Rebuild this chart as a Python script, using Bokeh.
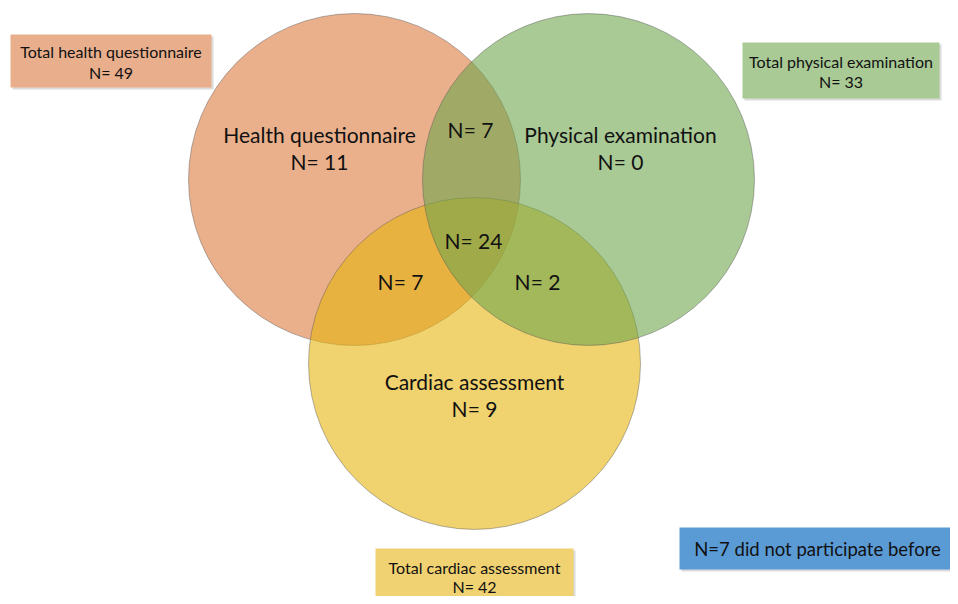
from bokeh.plotting import figure
from bokeh.models import Range1d
from bokeh.core.properties import value
from bokeh.embed import file_html
from bokeh.resources import INLINE

# ---- data ----
set_names = ["Health questionnaire", "Physical examination", "Cardiac assessment"]
only_counts = [11, 0, 9]
pair_names = ["Health & Physical", "Health & Cardiac", "Physical & Cardiac"]
pair_counts = [7, 7, 2]
all_three_count = 24
total_names = ["Total health questionnaire", "Total physical examination", "Total cardiac assessment"]
total_counts = [49, 33, 42]
not_participated = 7

# ---- layout (screenshot pixel coordinates) ----
FONT = "Lato"
circ_x = [354, 588, 474]
circ_y = [179, 179, 363]
circ_r = 166
pure_cols = ["#DC7B3F", "#70A54E", "#E6B40D"]
draw_order = [0, 2, 1]

p = figure(width=950, height=596, output_backend="svg", toolbar_location=None,
           x_range=Range1d(0, 950), y_range=Range1d(596, 0),
           min_border=0, outline_line_color=None, background_fill_color="white")
p.axis.visible = False
p.grid.visible = False

for i in draw_order:
    p.circle(x=[circ_x[i]], y=[circ_y[i]], radius=circ_r, fill_color=pure_cols[i],
             fill_alpha=0.6, line_color="#555555", line_alpha=0.55, line_width=0.8)

def txt(x, y, s, size):
    p.text(x=[x], y=[y], text=[s], text_font=value(FONT), text_font_size=f"{size}px",
           text_align="center", text_baseline="middle", text_color="#111111")

# single-set labels
lab_pos = [(319, 134, 161), (620, 134, 161), (474, 381, 408)]
for i, (lx, ly1, ly2) in enumerate(lab_pos):
    txt(lx, ly1, set_names[i], 21)
    txt(lx, ly2, f"N= {only_counts[i]}", 21)

pair_pos = [(470, 129), (400, 281), (537, 281)]
for (px, py), n in zip(pair_pos, pair_counts):
    txt(px, py, f"N= {n}", 21)
txt(473, 240, f"N= {all_three_count}", 21)

# total boxes
box_fill = ["#E9AF8C", "#A9C995", "#F0D272"]
boxes = [(10, 211, 34, 87), (742, 939, 42, 98), (375, 573, 548, 600)]
text_y = [(51, 72), (61, 81), (567, 586)]
for i, (l, r, t, b) in enumerate(boxes):
    p.quad(left=[l + 2], right=[r + 2], top=[t + 2], bottom=[b + 2], fill_color="#999999",
           fill_alpha=0.35, line_color=None)
    p.quad(left=[l], right=[r], top=[t], bottom=[b], fill_color=box_fill[i], line_color=None)
    cx = (l + r) / 2
    txt(cx, text_y[i][0], total_names[i], 16)
    txt(cx, text_y[i][1], f"N= {total_counts[i]}", 16)

# not participated box
p.quad(left=[681], right=[955], top=[529], bottom=[571], fill_color="#999999",
       fill_alpha=0.35, line_color=None)
p.quad(left=[679], right=[955], top=[527], bottom=[569], fill_color="#5B9BD5", line_color=None)
txt(817, 548, f"N={not_participated} did not participate before", 18.5)

open("out.html", "w").write(file_html(p, INLINE))
